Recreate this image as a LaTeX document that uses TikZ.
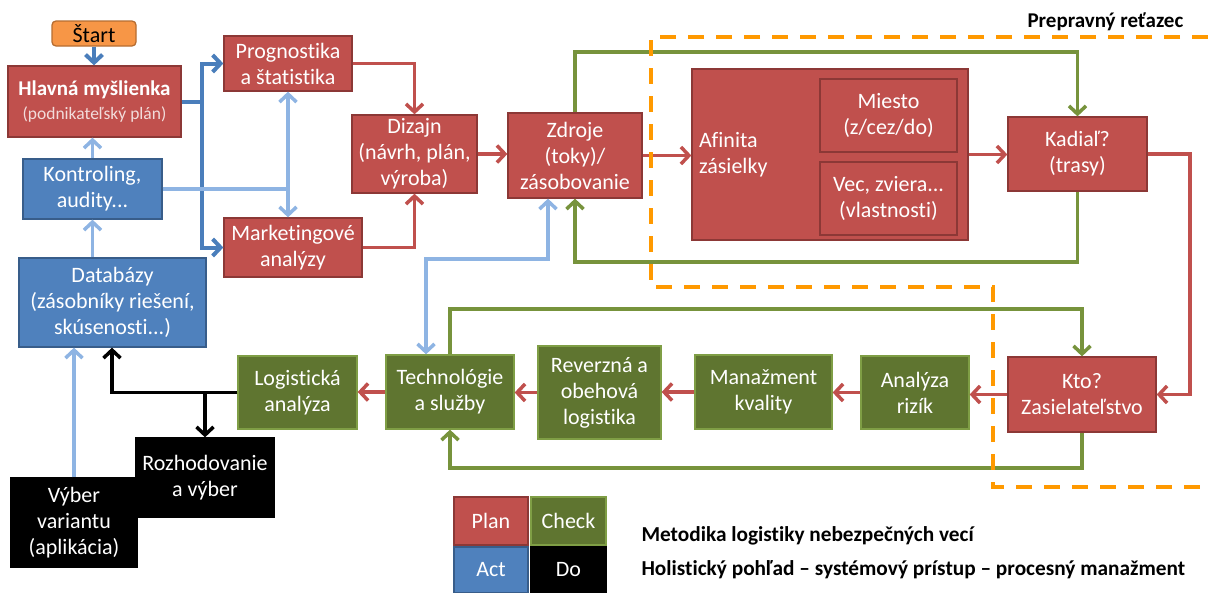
\documentclass[tikz,border=0pt]{standalone}
\usepackage{fontspec}
\setmainfont{Carlito}[Ligatures={NoCommon}]
\usetikzlibrary{arrows.meta}

% Office-like palette
\definecolor{planfill}{HTML}{C0504D}
\definecolor{planedge}{HTML}{8C3836}
\definecolor{planline}{HTML}{C0504D}
\definecolor{actfill}{HTML}{4F81BD}
\definecolor{actedge}{HTML}{385D8A}
\definecolor{actline}{HTML}{4A7EBB}
\definecolor{feedline}{HTML}{8EB4E3}
\definecolor{checkfill}{HTML}{5F7530}
\definecolor{checkedge}{HTML}{7F9E45}
\definecolor{checkline}{HTML}{77933C}
\definecolor{startfill}{HTML}{F79646}
\definecolor{startedge}{HTML}{B66D31}
\definecolor{chainorange}{HTML}{FF9900}
\definecolor{subpink}{HTML}{F2DCDB}

\newcommand\boxfont{\fontsize{22}{26}\selectfont}
\newcommand\headfont{\bfseries\fontsize{21}{24}\selectfont}

% box given by its corners (x1,y1) and (x2,y2)
\newcommand\placebox[7]{%
  \node[#1, minimum width={(#5)-(#3)}, minimum height={(#6)-(#4)}]
    (#2) at ({((#3)+(#5))/2},{((#4)+(#6))/2}) {#7};}

\tikzset{
  box/.style={rectangle, inner sep=0pt, align=center, font=\boxfont,
    line width=1.3pt, text=white},
  planbox/.style={box, fill=planfill, draw=planedge},
  innerbox/.style={box, fill=planfill, draw=planedge, line width=2pt},
  actbox/.style={box, fill=actfill, draw=actedge},
  checkbox/.style={box, fill=checkfill, draw=checkedge},
  dobox/.style={box, fill=black, draw=black},
  startbox/.style={box, fill=startfill, draw=startedge, text=black,
    rounded corners=4pt},
  arrowend/.style={-{Straight Barb[length=8pt,width=17pt]}},
  arrowboth/.style={{Straight Barb[length=8pt,width=17pt]}-{Straight Barb[length=8pt,width=17pt]}},
  link/.style={line width=3.5pt},
  planlink/.style={link, draw=planline},
  checklink/.style={link, draw=checkline},
  actlink/.style={link, draw=actline, line width=4pt},
  feedlink/.style={link, draw=feedline},
  dolink/.style={link, draw=black},
  chain/.style={draw=chainorange, line width=3.5pt, dash pattern=on 16pt off 12pt},
}

\begin{document}
\begin{tikzpicture}[x=1pt,y=-1pt]
\useasboundingbox (0,0) rectangle (1208,592);

% ---- left column and planning boxes
\placebox{startbox}{start}{52}{21}{136}{46}{Štart}
\placebox{planbox}{hlavna}{8}{66}{181}{137}{{\headfont Hlavná myšlienka}\\[-2pt]{\fontsize{17.5}{20}\selectfont\color{subpink}(podnikateľský plán)}}
\placebox{actbox}{kontrol}{23}{159}{162}{219}{Kontroling,\\audity...}
\placebox{actbox}{datab}{19}{258}{206}{347}{Databázy\\(zásobníky riešení,\\skúsenosti...)}
\placebox{planbox}{prog}{224}{36}{352}{91}{Prognostika\\a štatistika}
\placebox{planbox}{mark}{224}{218}{362}{277}{Marketingové\\analýzy}
\placebox{planbox}{dizajn}{352}{115}{477}{193}{Dizajn\\(návrh, plán,\\výroba)}
\placebox{planbox}{zdroje}{508}{113}{642}{198}{Zdroje\\(toky)/\\zásobovanie}

% ---- transport chain
\placebox{planbox}{afinita}{692}{69}{968}{240}{}
\node[box, align=left, anchor=west] (afinitalabel) at ([xshift=7pt]afinita.west) {Afinita\\zásielky};
\placebox{innerbox}{miesto}{820}{79}{957}{152}{Miesto\\(z/cez/do)}
\placebox{innerbox}{vec}{820}{162}{957}{235}{Vec, zviera...\\(vlastnosti)}
\placebox{planbox}{kadial}{1008}{117}{1147}{191}{Kadiaľ?\\(trasy)}
\placebox{planbox}{kto}{1008}{357}{1156}{432}{Kto?\\Zasielateľstvo}

% ---- check row
\placebox{checkbox}{analyza}{861}{356}{969}{429}{Analýza\\rizík}
\placebox{checkbox}{manaz}{695}{355}{832}{429}{Manažment\\kvality}
\placebox{checkbox}{reverz}{538}{346}{661}{439}{Reverzná a\\obehová\\logistika}
\placebox{checkbox}{tech}{386}{355}{514}{429}{Technológie\\a služby}
\placebox{checkbox}{logist}{238}{356}{357}{429}{Logistická\\analýza}

% ---- decision boxes
\placebox{dobox}{rozh}{136}{438}{274}{517}{Rozhodovanie\\a výber}
\placebox{dobox}{vyber}{11}{478}{137}{567}{Výber\\variantu\\(aplikácia)}

% ---- legend
\placebox{planbox}{lgplan}{454}{497}{528}{545}{Plan}
\placebox{checkbox}{lgcheck}{531}{497}{606}{545}{Check}
\placebox{actbox}{lgact}{454}{547}{528}{593}{Act}
\placebox{dobox}{lgdo}{531}{547}{606}{593}{Do}
\node[anchor=base west, font=\bfseries\fontsize{21.3}{24}\selectfont] (title) at (638,541) {Metodika logistiky nebezpečných vecí};
\node[anchor=base west, font=\bfseries\fontsize{21.3}{24}\selectfont] (subtitle) at (638,575) {Holistický pohľad – systémový prístup – procesný manažment};

% ---- helper coordinates for routed connectors
\coordinate (hjoin) at (202,101.5);
\coordinate (gtop) at (0,52);
\coordinate (gbot) at (0,262);
\coordinate (gmid) at (0,309);
\coordinate (glow) at (0,468);
\coordinate (rcol) at (1190,0);
\coordinate (bturn) at (112,392.5);
\coordinate (ltop) at (0,259);

% ---- act connectors
\draw[actlink, arrowend] (start.south) -- (start.south |- hlavna.north);
\draw[actlink] (hlavna.east) -- (hjoin);
\draw[actlink, arrowend] (hjoin) |- (prog.west);
\draw[actlink, arrowend] (hjoin) |- (mark.west);

% ---- feedback connectors
\draw[feedlink, arrowend] (kontrol.north) -- (kontrol.north |- hlavna.south);
\draw[feedlink, arrowend] (kontrol.south |- datab.north) -- (kontrol.south);
\draw[feedlink] (kontrol.east) -- (kontrol.east -| prog.south);
\draw[feedlink, arrowboth] (prog.south) -- (prog.south |- mark.north);
\draw[feedlink, arrowboth] ([xshift=-24pt]tech.north) -- ([xshift=-24pt]tech.north |- ltop) -| ([xshift=-27pt]zdroje.south);
\draw[feedlink, arrowend] (vyber.north) -- (vyber.north |- datab.south);

% ---- plan connectors
\draw[planlink, arrowend] (prog.east) -| (dizajn.north);
\draw[planlink, arrowend] (mark.east) -| (dizajn.south);
\draw[planlink, arrowend] (dizajn.east) -- (dizajn.east -| zdroje.west);
\draw[planlink, arrowend] (zdroje.east) -- (zdroje.east -| afinita.west);
\draw[planlink, arrowend] (afinita.east) -- (afinita.east -| kadial.west);
\draw[planlink, arrowend] (kadial.east) -- (kadial.east -| rcol) |- (kto.east);
\draw[planlink, arrowend] (kto.west) -- (kto.west -| analyza.east);
\draw[planlink, arrowend] (analyza.west) -- (analyza.west -| manaz.east);
\draw[planlink, arrowend] (manaz.west) -- (manaz.west -| reverz.east);
\draw[planlink, arrowend] (reverz.west) -- (reverz.west -| tech.east);
\draw[planlink, arrowend] (tech.west) -- (tech.west -| logist.east);

% ---- check loops
\draw[checklink, arrowend] (zdroje.north) -- (zdroje.north |- gtop) -| (kadial.north);
\draw[checklink, arrowend] (kadial.south) -- (kadial.south |- gbot) -| (zdroje.south);
\draw[checklink, arrowend] (tech.north) -- (tech.north |- gmid) -| (kto.north);
\draw[checklink, arrowend] (kto.south) -- (kto.south |- glow) -| (tech.south);

% ---- do connectors
\draw[dolink, arrowend] (logist.west) -- (bturn) -- (bturn |- datab.south);
\draw[dolink, arrowend] (rozh.north |- bturn) -- (rozh.north);

% ---- transport chain frame
\draw[chain] (1208,37) -- (651,37) -- (651,287) -- (993,287) -- (993,487) -- (1208,487);
\node[anchor=base west, font=\headfont] (chainlabel) at (1024,27) {Prepravný reťazec};
\end{tikzpicture}
\end{document}
